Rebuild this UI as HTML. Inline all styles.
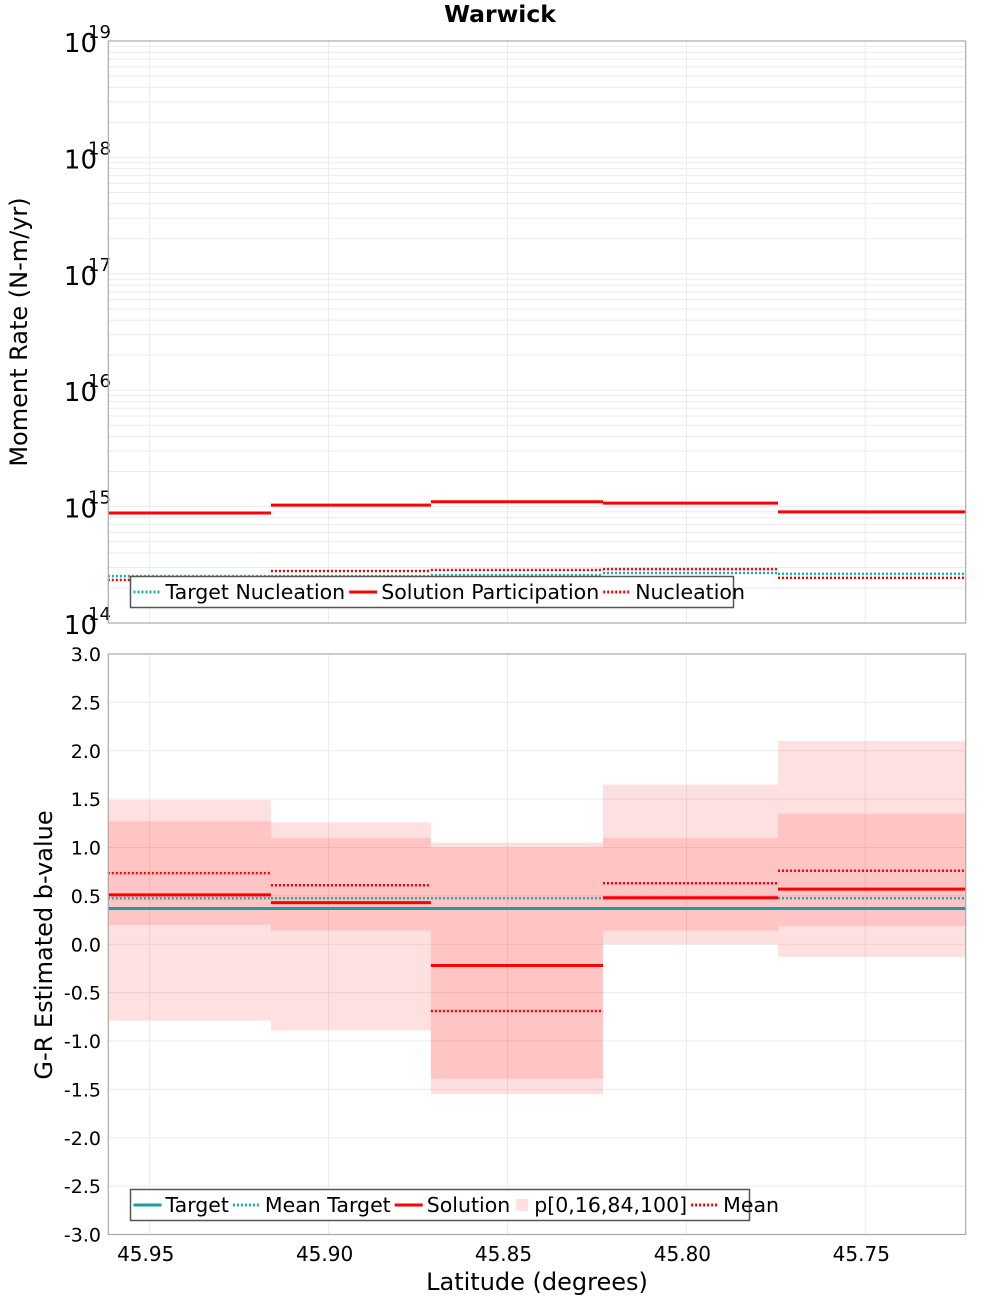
<!DOCTYPE html>
<html><head><meta charset="utf-8"><style>
body{margin:0;background:#fff;}
svg text{font-family:"DejaVu Sans","Liberation Sans",sans-serif;}
</style></head><body>
<svg id="chart" width="1000" height="1300" xmlns="http://www.w3.org/2000/svg"></svg>
<script>
// ---- data ----
const binEdges = [45.9617, 45.9161, 45.8714, 45.8233, 45.7744, 45.7219];
const xTicks = [45.95, 45.90, 45.85, 45.80, 45.75];
const xTickLabels = ["45.95", "45.90", "45.85", "45.80", "45.75"];
const solutionParticipation = [8.8e14, 1.03e15, 1.1e15, 1.07e15, 9.0e14];
const nucleation = [2.34e14, 2.8e14, 2.85e14, 2.9e14, 2.44e14];
const targetNucleation = [2.53e14, 2.53e14, 2.58e14, 2.69e14, 2.64e14];
const logDecades = [14, 15, 16, 17, 18, 19];
const bTicks = [3.0, 2.5, 2.0, 1.5, 1.0, 0.5, 0.0, -0.5, -1.0, -1.5, -2.0, -2.5, -3.0];
const bTarget = [0.37, 0.37, 0.37, 0.37, 0.37];
const bMeanTarget = [0.475, 0.475, 0.475, 0.475, 0.475];
const bSolution = [0.51, 0.43, -0.22, 0.48, 0.57];
const bMean = [0.735, 0.61, -0.69, 0.63, 0.76];
const bP0 = [-0.79, -0.89, -1.55, 0.0, -0.13];
const bP16 = [0.2, 0.14, -1.39, 0.14, 0.19];
const bP84 = [1.27, 1.10, 1.00, 1.10, 1.35];
const bP100 = [1.49, 1.26, 1.05, 1.65, 2.10];

const NS = "http://www.w3.org/2000/svg";
const svg = document.getElementById("chart");
function el(tag, attrs, parent){const e=document.createElementNS(NS,tag);for(const k in attrs)e.setAttribute(k,attrs[k]);(parent||svg).appendChild(e);return e;}

const L=108.3, R=965.7;
const xS = lat => 149.7 + (45.95 - lat) * 3578;
const T1=41, B1=623;
const yLog = v => B1 - (Math.log10(v) - 14) * (B1 - T1) / 5;
const T2=654, B2=1234.5;
const yB = v => T2 + (3 - v) * (B2 - T2) / 6;

// ---- top panel ----
const g1 = el("g", {});


el("rect",{x:L,y:T1,width:R-L,height:B1-T1,fill:"#fff"},g1);
for (let d=14; d<19; d++) for (let m=1; m<10; m++){
  const y = yLog(m*Math.pow(10,d));
  const gl = el("line",{x1:L,x2:R,y1:y,y2:y,stroke:"#ebebeb","stroke-width":1},g1);
  
  
}
xTicks.forEach(t=>{const gl=el("line",{x1:xS(t),x2:xS(t),y1:T1,y2:B1,stroke:"#ebebeb"},g1);
  
  });
logDecades.forEach(d=>{
  const y=yLog(Math.pow(10,d));
  const t=el("text",{x:97,y:y+11,"font-size":26,"text-anchor":"end",fill:"#000"},g1);
  t.textContent="10";
  
  
  const s=el("text",{x:88,y:y-3,"font-size":18,fill:"#000"},g1);
  s.textContent=String(d);
  
  
});
function steps(arr, yf, color, dash, w, g, name){
  arr.forEach((v,i)=>{
    const ln=el("line",{x1:xS(binEdges[i]),x2:xS(binEdges[i+1]),y1:yf(v),y2:yf(v),stroke:color,"stroke-width":w,"stroke-dasharray":dash||"none"},g);
    
    
  });
}
steps(targetNucleation, yLog, "#17b0b0", "2,2", 2.5, g1, "target-nucleation-line");
steps(nucleation, yLog, "#ff0000", "2,2", 2.5, g1, "nucleation-line");
steps(solutionParticipation, yLog, "#ff0000", null, 3, g1, "solution-participation-line");
el("rect",{x:L,y:T1,width:R-L,height:B1-T1,fill:"none",stroke:"#aaa","stroke-width":1.2},g1);

// ---- bottom panel ----
const g2 = el("g", {});


bTicks.forEach(t=>{
  const gl=el("line",{x1:L,x2:R,y1:yB(t),y2:yB(t),stroke:"#ebebeb"},g2);
  
  
  const tx=el("text",{x:101,y:yB(t)+7,"font-size":19,"text-anchor":"end",fill:"#000"},g2);
  tx.textContent=t.toFixed(1);
  
  
});
xTicks.forEach((t,i)=>{
  const gl=el("line",{x1:xS(t),x2:xS(t),y1:T2,y2:B2,stroke:"#ebebeb"},g2);
  
  
  const tx=el("text",{x:xS(t)-4,y:1261,"font-size":20,"text-anchor":"middle",fill:"#000"},g2);
  tx.textContent=xTickLabels[i];
  
  
});
bP0.forEach((v,i)=>{
  const x1=xS(binEdges[i]), x2=xS(binEdges[i+1]);
  const o=el("rect",{x:x1,y:yB(bP100[i]),width:x2-x1,height:yB(v)-yB(bP100[i]),fill:"#ff0000","fill-opacity":0.12},g2);
  
  
  const n=el("rect",{x:x1,y:yB(bP84[i]),width:x2-x1,height:yB(bP16[i])-yB(bP84[i]),fill:"#ff0000","fill-opacity":0.12},g2);
  
  
});
steps(bTarget, yB, "#1a9e9e", null, 3, g2, "target-line");
steps(bMeanTarget, yB, "#17b0b0", "2,2", 2.5, g2, "mean-target-line");
steps(bMean, yB, "#ff0000", "2,2", 2.5, g2, "mean-line");
steps(bSolution, yB, "#ff0000", null, 3, g2, "solution-line");
el("rect",{x:L,y:T2,width:R-L,height:B2-T2,fill:"none",stroke:"#aaa","stroke-width":1.2},g2);

// ---- legends ----
function legend(x,y,w,h,items,name){
  const g=el("g",{});
  
  
  el("rect",{x:x,y:y,width:w,height:h,fill:"#fff",stroke:"#555","stroke-width":1.5},g);
  let cx=x+3;
  items.forEach(it=>{
    const e=el("g",{},g);
    
    
    if(it.band){el("rect",{x:cx+2,y:y+h/2-6,width:12,height:12,fill:"#fde0e0"},e);}
    else el("line",{x1:cx,x2:cx+28,y1:y+h/2,y2:y+h/2,stroke:it.c,"stroke-width":3,"stroke-dasharray":it.d||"none"},e);
    const t=el("text",{x:cx+(it.band?20:32),y:y+h/2+7,"font-size":20.5,fill:"#000"},e);
    t.textContent=it.t;
    cx+= (it.band?20:32)+t.getComputedTextLength()+4;
  });
}
legend(130.5,576.5,603,31,[{t:"Target Nucleation",c:"#17b0b0",d:"2,2"},{t:"Solution Participation",c:"#f00"},{t:"Nucleation",c:"#f00",d:"2,2"}],"top-legend");
legend(130.5,1189.5,619,31,[{t:"Target",c:"#1a9e9e"},{t:"Mean Target",c:"#17b0b0",d:"2,2"},{t:"Solution",c:"#f00"},{t:"p[0,16,84,100]",band:true},{t:"Mean",c:"#f00",d:"2,2"}],"bottom-legend");

// ---- titles ----
let t=el("text",{x:500,y:22,"font-size":23.5,"font-weight":"bold","text-anchor":"middle",fill:"#000"});
t.textContent="Warwick";


t=el("text",{x:0,y:0,"font-size":24,"text-anchor":"middle",fill:"#000",transform:"translate(27,332) rotate(-90)"});
t.textContent="Moment Rate (N-m/yr)";


t=el("text",{x:0,y:0,"font-size":24,"text-anchor":"middle",fill:"#000",transform:"translate(52,945) rotate(-90)"});
t.textContent="G-R Estimated b-value";


t=el("text",{x:537,y:1290,"font-size":24,"text-anchor":"middle",fill:"#000"});
t.textContent="Latitude (degrees)";


</script>
</body></html>
